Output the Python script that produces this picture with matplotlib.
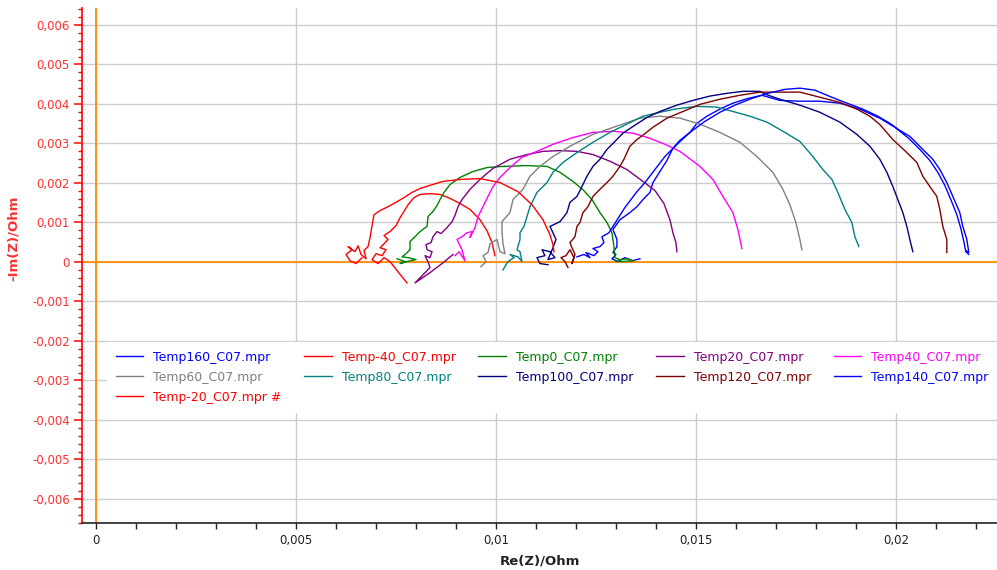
import numpy as np
import matplotlib
matplotlib.use("Agg")
import matplotlib.pyplot as plt
from matplotlib.ticker import MultipleLocator, FuncFormatter

# Nyquist-Daten, Werte in mOhm: Re(Z) und -Im(Z)
tm40_re = [7.775, 7.55, 7.35, 7.2, 7.05, 6.9, 7.0, 7.15, 7.25, 7.1, 7.2, 7.3, 7.2, 7.35, 7.5, 7.6, 7.7,
           7.8, 7.95, 8.1, 8.35, 8.6, 8.85, 9.1, 9.35, 9.6, 9.775, 9.9, 9.975]
tm40_im = [-0.53, -0.25, 0.01, 0.11, -0.04, 0.06, 0.21, 0.16, 0.31, 0.36, 0.46, 0.57, 0.67, 0.77, 0.92, 1.12,
           1.28, 1.45, 1.63, 1.71, 1.73, 1.71, 1.61, 1.48, 1.33, 1.07, 0.79, 0.49, 0.16]

tm20_re = [6.65, 6.5, 6.35, 6.25, 6.4, 6.3, 6.475, 6.55, 6.625, 6.75, 6.7, 6.8, 6.85, 6.9, 6.95, 7.1, 7.3,
           7.5, 7.7, 7.9, 8.1, 8.35, 8.675, 9.1, 9.6, 10.1, 10.55, 10.9, 11.175, 11.35, 11.425, 11.45]
tm20_im = [0.11, -0.04, 0.03, 0.19, 0.31, 0.39, 0.26, 0.41, 0.19, 0.08, 0.29, 0.39, 0.62, 0.92, 1.2, 1.30,
           1.40, 1.51, 1.63, 1.76, 1.86, 1.94, 2.04, 2.09, 2.11, 2.01, 1.78, 1.45, 1.07, 0.69, 0.44, 0.26]

t0_re = [7.525, 7.725, 7.6, 7.85, 8.0, 7.8, 7.65, 7.75, 7.85, 7.85, 7.975, 8.1, 8.275, 8.3, 8.425, 8.525,
         8.6, 8.7, 8.85, 9.1, 9.425, 9.775, 10.175, 10.775, 11.275, 11.6, 11.925, 12.175, 12.4, 12.6,
         12.775, 12.9, 12.95, 12.975, 13.1, 13.3, 13.425, 13.15, 12.975]
t0_im = [0.08, 0.01, -0.04, 0.03, 0.06, 0.11, 0.13, 0.21, 0.31, 0.52, 0.64, 0.77, 0.90, 1.15, 1.28, 1.43,
         1.58, 1.76, 1.96, 2.14, 2.29, 2.39, 2.42, 2.44, 2.42, 2.27, 2.04, 1.83, 1.58, 1.25, 1.00, 0.74,
         0.39, 0.11, 0.06, 0.08, 0.03, 0.01, 0.03]

t20_re = [8.925, 8.675, 8.35, 7.975, 8.15, 8.35, 8.3, 8.225, 8.35, 8.4, 8.275, 8.25, 8.375, 8.425, 8.525,
          8.625, 8.775, 8.9, 8.975, 9.05, 9.15, 9.35, 9.6, 9.925, 10.35, 10.775, 11.175, 11.6, 12.025,
          12.425, 12.85, 13.275, 13.675, 13.975, 14.2, 14.35, 14.425, 14.5, 14.525]
t20_im = [0.19, -0.02, -0.27, -0.53, -0.35, -0.14, 0.01, 0.16, 0.11, 0.26, 0.31, 0.44, 0.49, 0.64, 0.77,
          0.72, 0.87, 1.02, 1.18, 1.40, 1.58, 1.84, 2.09, 2.37, 2.60, 2.72, 2.80, 2.82, 2.80, 2.72, 2.55,
          2.34, 2.04, 1.81, 1.48, 1.07, 0.74, 0.49, 0.26]

t40_re = [8.975, 9.075, 9.225, 9.15, 9.025, 9.15, 9.275, 9.4, 9.35, 9.475, 9.55, 9.675, 9.8, 9.925, 10.1,
          10.35, 10.65, 11.025, 11.425, 11.925, 12.425, 12.925, 13.425, 13.85, 14.225, 14.6, 15.1,
          15.425, 15.675, 15.925, 16.05, 16.15]
t40_im = [0.16, 0.26, 0.03, 0.31, 0.57, 0.64, 0.74, 0.77, 0.62, 0.87, 1.15, 1.40, 1.66, 1.91, 2.14, 2.39,
          2.65, 2.80, 2.98, 3.15, 3.28, 3.31, 3.26, 3.13, 2.98, 2.80, 2.42, 2.09, 1.66, 1.25, 0.82, 0.34]

t60_re = [9.625, 9.75, 9.675, 9.8, 9.85, 10.025, 10.1, 10.225, 10.175, 10.15, 10.15, 10.35, 10.425,
          10.675, 10.85, 11.1, 11.425, 11.85, 12.425, 13.025, 13.6, 14.1, 14.6, 15.1, 15.6, 16.1, 16.525,
          16.925, 17.175, 17.35, 17.5, 17.6, 17.65]
t60_im = [-0.12, 0.01, 0.16, 0.24, 0.46, 0.57, 0.26, 0.21, 0.46, 0.77, 1.02, 1.25, 1.58, 1.84, 2.17, 2.42,
          2.67, 2.93, 3.23, 3.44, 3.64, 3.69, 3.64, 3.49, 3.28, 3.03, 2.67, 2.27, 1.84, 1.45, 1.00, 0.57, 0.31]

t80_re = [10.175, 10.3, 10.45, 10.35, 10.55, 10.65, 10.6, 10.525, 10.6, 10.6, 10.7, 10.775, 10.85,
          11.025, 11.275, 11.425, 11.675, 12.025, 12.425, 12.85, 13.275, 13.675, 14.1, 14.475, 15.025,
          15.525, 15.925, 16.35, 16.775, 17.175, 17.6, 17.925, 18.175, 18.4, 18.55, 18.725, 18.9, 18.975,
          19.075]
t80_im = [-0.2, 0.01, 0.11, 0.19, 0.13, 0.01, 0.26, 0.31, 0.57, 0.74, 0.90, 1.15, 1.40, 1.76, 2.01, 2.27,
          2.52, 2.77, 3.03, 3.28, 3.49, 3.69, 3.79, 3.87, 3.94, 3.92, 3.81, 3.69, 3.54, 3.31, 3.05, 2.67,
          2.34, 2.09, 1.76, 1.33, 1.00, 0.64, 0.39]

t100_re = [11.3, 11.1, 11.025, 11.225, 11.15, 11.35, 11.475, 11.3, 11.425, 11.5, 11.425, 11.35, 11.6,
           11.775, 11.85, 12.025, 12.15, 12.275, 12.425, 12.6, 12.775, 12.925, 13.175, 13.425, 13.775,
           14.1, 14.525, 14.925, 15.35, 15.775, 16.175, 16.6, 16.725, 17.1, 17.6, 18.1, 18.6, 19.025,
           19.35, 19.6, 19.775, 19.925, 20.05, 20.175, 20.275, 20.35, 20.425]
t100_im = [-0.07, -0.04, 0.11, 0.16, 0.31, 0.26, 0.11, 0.06, 0.36, 0.57, 0.74, 0.90, 1.02, 1.25, 1.51,
           1.66, 1.91, 2.17, 2.42, 2.60, 2.85, 3.00, 3.26, 3.43, 3.66, 3.81, 3.97, 4.09, 4.20, 4.27, 4.32,
           4.32, 4.25, 4.12, 3.97, 3.79, 3.54, 3.23, 2.93, 2.60, 2.27, 1.91, 1.58, 1.25, 0.90, 0.57, 0.26]

t120_re = [11.8, 11.725, 11.625, 11.75, 11.85, 11.95, 11.9, 11.975, 11.9, 11.85, 11.975, 12.025, 12.1,
           12.175, 12.3, 12.425, 12.6, 12.775, 12.925, 13.1, 13.2, 13.275, 13.35, 13.525, 13.675, 13.925,
           14.275, 14.675, 15.1, 15.6, 16.1, 16.6, 17.1, 17.6, 18.1, 18.6, 19.025, 19.35, 19.6, 19.925,
           20.275, 20.525, 20.675, 20.85, 21.025, 21.1, 21.175, 21.275, 21.275]
t120_im = [-0.14, 0.01, 0.11, 0.16, 0.31, 0.11, -0.04, 0.19, 0.36, 0.49, 0.64, 0.90, 1.00, 1.25, 1.40,
           1.66, 1.84, 2.01, 2.17, 2.42, 2.60, 2.77, 2.93, 3.10, 3.21, 3.41, 3.64, 3.81, 3.99, 4.12, 4.22,
           4.30, 4.30, 4.30, 4.17, 4.04, 3.87, 3.69, 3.48, 3.10, 2.77, 2.52, 2.17, 1.91, 1.66, 1.33, 0.90,
           0.57, 0.24]

t140_re = [12.025, 12.2, 12.35, 12.25, 12.45, 12.55, 12.425, 12.6, 12.7, 12.65, 12.825, 12.925, 13.0,
           13.1, 13.225, 13.375, 13.525, 13.725, 13.975, 14.225, 14.55, 14.85, 15.225, 15.6, 15.975, 16.4,
           16.8, 17.225, 17.6, 17.975, 18.35, 18.725, 19.175, 19.55, 19.85, 20.1, 20.35, 20.675, 20.925,
           21.1, 21.275, 21.425, 21.6, 21.675, 21.775, 21.825, 21.75]
t140_im = [0.13, 0.19, 0.11, 0.24, 0.16, 0.26, 0.34, 0.39, 0.49, 0.64, 0.74, 0.90, 1.02, 1.18, 1.38, 1.58,
           1.78, 2.01, 2.34, 2.67, 3.00, 3.28, 3.56, 3.79, 3.97, 4.14, 4.27, 4.37, 4.40, 4.35, 4.19, 4.04,
           3.87, 3.69, 3.51, 3.33, 3.18, 2.85, 2.60, 2.34, 2.01, 1.66, 1.25, 0.90, 0.57, 0.24, 0.29]

t160_re = [13.6, 13.4, 13.225, 13.05, 12.9, 13.0, 12.925, 13.025, 13.025, 12.925, 13.1, 13.35, 13.525,
           13.675, 13.85, 13.925, 14.1, 14.275, 14.425, 14.6, 14.85, 15.025, 15.275, 15.6, 15.925, 16.3,
           16.65, 17.1, 17.6, 18.1, 18.6, 19.1, 19.6, 19.975, 20.3, 20.6, 20.85, 21.05, 21.225, 21.375,
           21.525, 21.625, 21.7, 21.75, 21.825]
t160_im = [0.08, 0.03, 0.11, 0.01, 0.08, 0.19, 0.24, 0.39, 0.57, 0.82, 1.07, 1.25, 1.40, 1.58, 1.76, 2.01,
           2.29, 2.57, 2.88, 3.08, 3.28, 3.51, 3.69, 3.87, 4.02, 4.14, 4.22, 4.09, 4.07, 4.07, 4.02, 3.87,
           3.64, 3.41, 3.15, 2.85, 2.57, 2.27, 1.94, 1.58, 1.20, 0.85, 0.52, 0.26, 0.19]

# Legendenreihenfolge wie im Original (zeilenweise, 5 Spalten)
series = [
    ("Temp160_C07.mpr", "#0000ff", t160_re, t160_im),
    ("Temp-40_C07.mpr", "#ff0000", tm40_re, tm40_im),
    ("Temp0_C07.mpr", "#008000", t0_re, t0_im),
    ("Temp20_C07.mpr", "#800080", t20_re, t20_im),
    ("Temp40_C07.mpr", "#ff00ff", t40_re, t40_im),
    ("Temp60_C07.mpr", "#808080", t60_re, t60_im),
    ("Temp80_C07.mpr", "#008080", t80_re, t80_im),
    ("Temp100_C07.mpr", "#000080", t100_re, t100_im),
    ("Temp120_C07.mpr", "#800000", t120_re, t120_im),
    ("Temp140_C07.mpr", "#0000ff", t140_re, t140_im),
    ("Temp-20_C07.mpr #", "#ff0000", tm20_re, tm20_im),
]


def comma_fmt(v, pos):
    if abs(v) < 1e-12:
        return "0"
    return ("%g" % round(v, 6)).replace(".", ",")


fig = plt.figure(figsize=(9.97, 5.70), dpi=100)
ax = fig.add_axes([0.082, 0.083, 0.918, 0.903])

handles = {}
for name, col, re, im in series:
    ln, = ax.plot(np.array(re) / 1000, np.array(im) / 1000, color=col, lw=1.0, zorder=3)
    handles[name] = ln

ax.axhline(0, color="#ff8c00", lw=1.3, zorder=2)
ax.axvline(0, color="#ff8c00", lw=1.3, zorder=2)

ax.set_xlim(-0.00036, 0.02253)
ax.set_ylim(-0.0066, 0.00643)
ax.xaxis.set_major_locator(MultipleLocator(0.005))
ax.xaxis.set_minor_locator(MultipleLocator(0.001))
ax.yaxis.set_major_locator(MultipleLocator(0.001))
ax.yaxis.set_minor_locator(MultipleLocator(0.0002))
ax.xaxis.set_major_formatter(FuncFormatter(comma_fmt))
ax.yaxis.set_major_formatter(FuncFormatter(comma_fmt))
ax.grid(True, which="major", color="#cccccc", lw=1.0, zorder=1)
ax.set_axisbelow(True)

for s in ("top", "right"):
    ax.spines[s].set_visible(False)
ax.spines["left"].set_color("#ff0000")
ax.spines["left"].set_linewidth(1.2)
ax.spines["bottom"].set_color("#222222")
ax.spines["bottom"].set_linewidth(1.2)

ax.tick_params(axis="y", which="major", colors="#ff0000", labelcolor="#ff3030", length=5.5, width=1.1,
               labelsize=8.5, pad=3)
ax.tick_params(axis="y", which="minor", colors="#ff0000", length=3, width=1.0)
ax.tick_params(axis="x", which="both", colors="#222222", length=4.5, width=1.0, labelsize=8.5, pad=4)

ax.set_xlabel("Re(Z)/Ohm", fontsize=9.5, fontweight="bold", color="#222222")
ax.xaxis.set_label_coords(0.5007, -0.062)
ax.set_ylabel("-Im(Z)/Ohm", fontsize=9.5, fontweight="bold", color="#ff3030")
ax.yaxis.set_label_coords(-0.068, 0.553)

order = ["Temp160_C07.mpr", "Temp60_C07.mpr", "Temp-20_C07.mpr #",
         "Temp-40_C07.mpr", "Temp80_C07.mpr",
         "Temp0_C07.mpr", "Temp100_C07.mpr",
         "Temp20_C07.mpr", "Temp120_C07.mpr",
         "Temp40_C07.mpr", "Temp140_C07.mpr"]
leg = ax.legend([handles[n] for n in order], order, loc="upper left",
                bbox_to_anchor=(0.0276, 0.219, 0.9724, 0.132), mode="expand", ncol=5,
                frameon=True, fancybox=False, edgecolor="white", facecolor="white", framealpha=1,
                handlelength=2.2, handletextpad=0.8, borderaxespad=0, borderpad=0.7,
                labelspacing=0.55, fontsize=9)
for txt, ln in zip(leg.get_texts(), leg.get_lines()):
    txt.set_color(ln.get_color())

fig.savefig("out.png", dpi=100)
